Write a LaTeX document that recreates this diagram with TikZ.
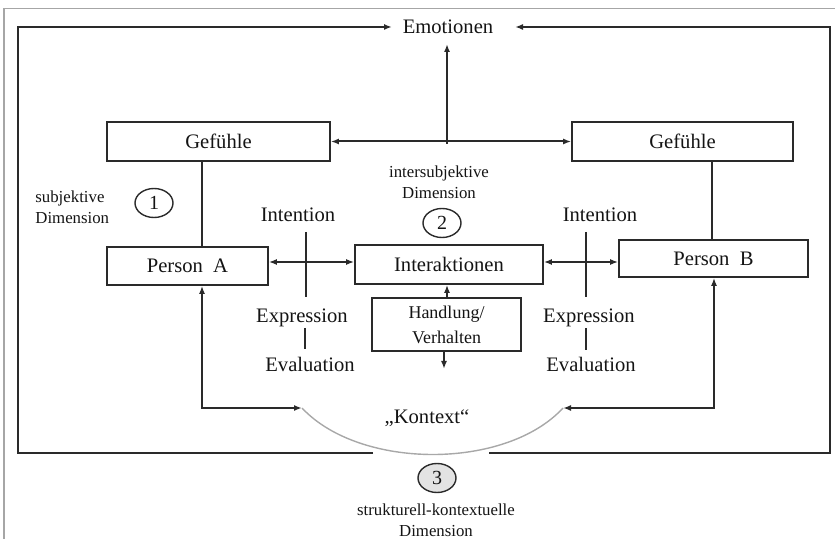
\documentclass[tikz,border=0pt]{standalone}
\usepackage{fontspec}
\setmainfont{Liberation Serif}
\usetikzlibrary{arrows.meta,shapes.geometric}
\definecolor{ink}{HTML}{2A2A2A}
\definecolor{txt}{HTML}{141414}
\definecolor{arcgray}{HTML}{A8A8A8}
\begin{document}
\begin{tikzpicture}[x=0.5pt,y=-0.5pt,
  box/.style={draw=ink,line width=0.85pt,fill=white,inner sep=0pt,font=\fontsize{10.3}{12}\selectfont,text=txt},
  lbl/.style={inner sep=0pt,font=\fontsize{10.3}{12}\selectfont,text=txt},
  small/.style={inner sep=0pt,font=\fontsize{8.4}{10.5}\selectfont,text=txt,align=center},
  num/.style={draw=ink,line width=0.7pt,ellipse,inner sep=0pt,minimum width=19pt,minimum height=14.5pt,font=\fontsize{10}{12}\selectfont,text=txt},
  conn/.style={draw=ink,line width=1pt},
  thin/.style={draw=ink,line width=0.6pt},
  arr/.style={conn,-{Latex[length=4pt,width=3pt]}},
  barr/.style={conn,{Latex[length=4pt,width=3pt]}-{Latex[length=4pt,width=3pt]}}
]
\useasboundingbox (0,0) rectangle (835,539);
% outer frame
\draw[draw=gray!70,line width=0.8pt] (4,539) -- (4,8.5) -- (835,8.5);

% nodes
\node[lbl] (emo) at (448,27) {Emotionen};
\node[box,minimum width=111.5pt,minimum height=19.5pt] (gefA) at (218.5,141.5) {Gefühle};
\node[box,minimum width=110.5pt,minimum height=19.5pt] (gefB) at (682.5,141.5) {Gefühle};
\node[box,minimum width=80.5pt,minimum height=19pt] (persA) at (187.5,266) {Person\ \ A};
\node[box,minimum width=94.5pt,minimum height=18.5pt] (persB) at (713.5,258.5) {Person\ \ B};
\node[box,minimum width=94pt,minimum height=19.5pt] (inter) at (449,264.5) {Interaktionen};
\node[box,minimum width=74.5pt,minimum height=26.5pt,align=center,font=\fontsize{9}{12.5}\selectfont] (hand) at (446.5,324.5) {Handlung/\\Verhalten};

\node[lbl] (intA) at (298,215) {Intention};
\node[lbl] (expA) at (302,318) {Expression};
\node[lbl] (evaA) at (310,364) {Evaluation};
\node[lbl] (intB) at (600,215) {Intention};
\node[lbl] (expB) at (589,318) {Expression};
\node[lbl] (evaB) at (591,364) {Evaluation};

\node[lbl] (kontext) at (427,418) {„Kontext“};

\node[num] (n1) at (154,203) {1};
\node[num] (n2) at (442,223) {2};
\node[num,fill=gray!22] (n3) at (437,478) {3};

\node[small,align=left,anchor=west] (subj) at (35,207.5) {subjektive\\Dimension};
\node[small] (isubj) at (439,182.5) {intersubjektive\\Dimension};
\node[small] (struk) at (436,520) {strukturell-kontextuelle\\Dimension};

% coordinates
\coordinate (emoL) at (392,27);
\coordinate (emoR) at (515,27);
\coordinate (fTL) at (17.5,27);
\coordinate (fTR) at (830,27);
\coordinate (fBL) at (17.5,452.5);
\coordinate (fBR) at (830,452.5);
\coordinate (fBLend) at (373,452.5);
\coordinate (fBRend) at (489,452.5);
\coordinate (kA) at (302,408);
\coordinate (kB) at (563,408);
\coordinate (hor) at (447,144);
\coordinate (emoUp) at (447,44);
\coordinate (handDown) at (444,369);

% inner frame with arrows into Emotionen
\draw[arr] (fBLend) -- (fBL) -- (fTL) -- (emoL);
\draw[arr] (fBRend) -- (fBR) -- (fTR) -- (emoR);

% Gefühle connection and up-arrow
\draw[barr] (gefA.east) -- (gefB.west);
\draw[arr] (hor) -- (emoUp);

% Gefühle to Person
\draw[thin] (gefA.south -| 202,0) -- (persA.north -| 202,0);
\draw[thin] (gefB.south -| 712,0) -- (persB.north -| 712,0);

% Person <-> Interaktionen
\draw[barr] (persA.east |- 0,262) -- (inter.west |- 0,262);
\draw[barr] (inter.east |- 0,262) -- (persB.west |- 0,262);

% vertical intention lines
\draw[thin] (306,232) -- (306,297);
\draw[thin] (305,328) -- (305,349);
\draw[thin] (586,232) -- (586,297);
\draw[thin] (586,328) -- (586,350);

% Handlung arrows
\draw[arr] (hand.north -| 447,0) -- (inter.south -| 447,0);
\draw[arr] (hand.south -| 444,0) -- (handDown);

% Person to Kontext
\draw[barr] (persA.south -| 202,0) -- (202,408) -- (kA);
\draw[barr] (persB.south -| 714,0) -- (714,408) -- (kB);

% Kontext arc
\draw[draw=arcgray,line width=0.7pt] (kA) .. controls (360,470) and (506,470) .. (kB);
\end{tikzpicture}
\end{document}
